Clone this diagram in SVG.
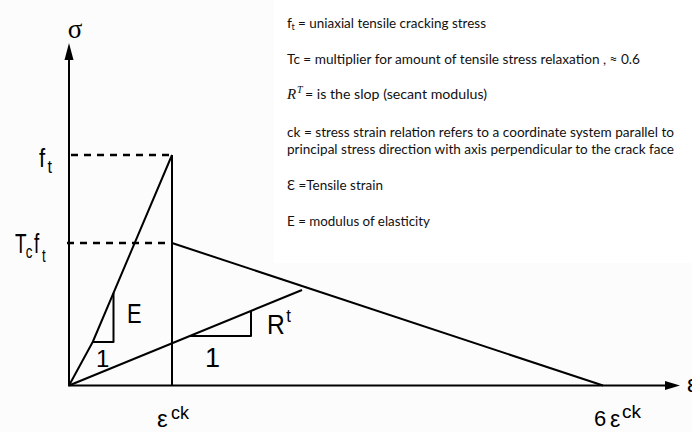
<svg xmlns="http://www.w3.org/2000/svg" width="692" height="432" viewBox="0 0 692 432">
<style>
.ln{stroke:#000;stroke-width:2;fill:none;stroke-linejoin:round}
.ds{stroke:#000;stroke-width:2.4;fill:none;stroke-dasharray:7 6}
.lab{font-family:"Liberation Sans",Arial,sans-serif;fill:#000}
.leg{font-family:Lato,"Liberation Sans",sans-serif;font-size:14px;fill:#111}
</style>
<rect width="692" height="432" fill="#fcfcfc"/>
<rect x="274" y="0" width="418" height="263" fill="#ffffff"/>
<g id="axes">
<line class="ln" x1="69" y1="386" x2="69" y2="56"/>
<polygon points="69,43 64.5,60 73.5,60" fill="#000"/>
<line class="ln" x1="68" y1="385.5" x2="668" y2="385.5"/>
<polygon points="680,385.5 665,381 665,390" fill="#000"/>
<text class="lab" x="75" y="38" text-anchor="middle" style="font-family:'Liberation Serif',serif;font-size:27px">σ</text>
<text class="lab" x="687" y="392" style="font-size:24px">ε</text>
</g>
<g id="curves">
<polyline class="ln" points="69,385.5 92.7,342 172,155"/>
<line class="ln" x1="172" y1="155" x2="172" y2="385.5"/>
<line class="ds" x1="71" y1="155" x2="170" y2="155"/>
<line class="ds" x1="67" y1="243" x2="170" y2="243"/>
<line class="ln" x1="172" y1="243" x2="603" y2="385.5"/>
<line class="ln" x1="69" y1="385.5" x2="302" y2="290"/>
<polyline class="ln" points="92.7,342 113.5,342 113.5,293"/>
<polyline class="ln" points="190,336 251,336 251,311"/>
</g>
<g id="labels">
<g transform="translate(39,167) scale(0.85,1)">
<text class="lab" style="font-size:26px"><tspan x="0" y="0">f</tspan><tspan x="10" y="6" style="font-size:19px">t</tspan></text>
</g>
<g transform="translate(15,253) scale(0.7,1)">
<text class="lab" style="font-size:27px"><tspan x="0" y="0">T</tspan><tspan x="15.5" y="5" style="font-size:19px">c</tspan><tspan x="27" y="0">f</tspan><tspan x="38.5" y="9" style="font-size:19px">t</tspan></text>
</g>
<g transform="translate(127,323) scale(0.78,1)">
<text class="lab" x="0" y="0" style="font-size:28px">E</text>
</g>
<text class="lab" x="96" y="367" style="font-size:24px">1</text>
<g transform="translate(267,334) scale(0.88,1)">
<text class="lab" style="font-size:28px"><tspan x="0" y="0">R</tspan><tspan x="22" y="-12" style="font-size:19px">t</tspan></text>
</g>
<text class="lab" x="205" y="367" style="font-size:27px">1</text>
<text class="lab" style="font-size:24px"><tspan x="157" y="427">ε</tspan><tspan x="171" y="419" style="font-size:18px">ck</tspan></text>
<text class="lab" style="font-size:22px"><tspan x="594" y="426">6</tspan><tspan x="610" y="427" style="font-size:23px">ε</tspan><tspan x="622" y="418" style="font-size:19px">ck</tspan></text>
</g>
<g id="legend">
<text class="leg"><tspan x="287" y="28">f</tspan><tspan x="291.5" y="30" style="font-size:9px">t</tspan></text>
<text class="leg" x="298" y="28" textLength="188" lengthAdjust="spacingAndGlyphs">= uniaxial tensile cracking stress</text>
<text class="leg" x="287" y="64" textLength="353" lengthAdjust="spacingAndGlyphs">Tc = multiplier for amount of tensile stress relaxation , ≈ 0.6</text>
<text class="leg" style="font-family:'Liberation Serif',serif;font-style:italic;font-size:15px"><tspan x="287" y="99">R</tspan><tspan x="297" y="93" style="font-size:10px">T</tspan></text>
<text class="leg" x="305" y="99" textLength="182" lengthAdjust="spacingAndGlyphs">= is the slop (secant modulus)</text>
<text class="leg" x="287" y="137" textLength="387" lengthAdjust="spacingAndGlyphs">ck = stress strain relation refers to a coordinate system parallel to</text>
<text class="leg" x="287" y="154" textLength="387" lengthAdjust="spacingAndGlyphs">principal stress direction with axis perpendicular to the crack face</text>
<text class="leg" x="287" y="190" textLength="96" lengthAdjust="spacingAndGlyphs">Ɛ =Tensile strain</text>
<text class="leg" x="287" y="226" textLength="143" lengthAdjust="spacingAndGlyphs">E = modulus of elasticity</text>
</g>
</svg>
